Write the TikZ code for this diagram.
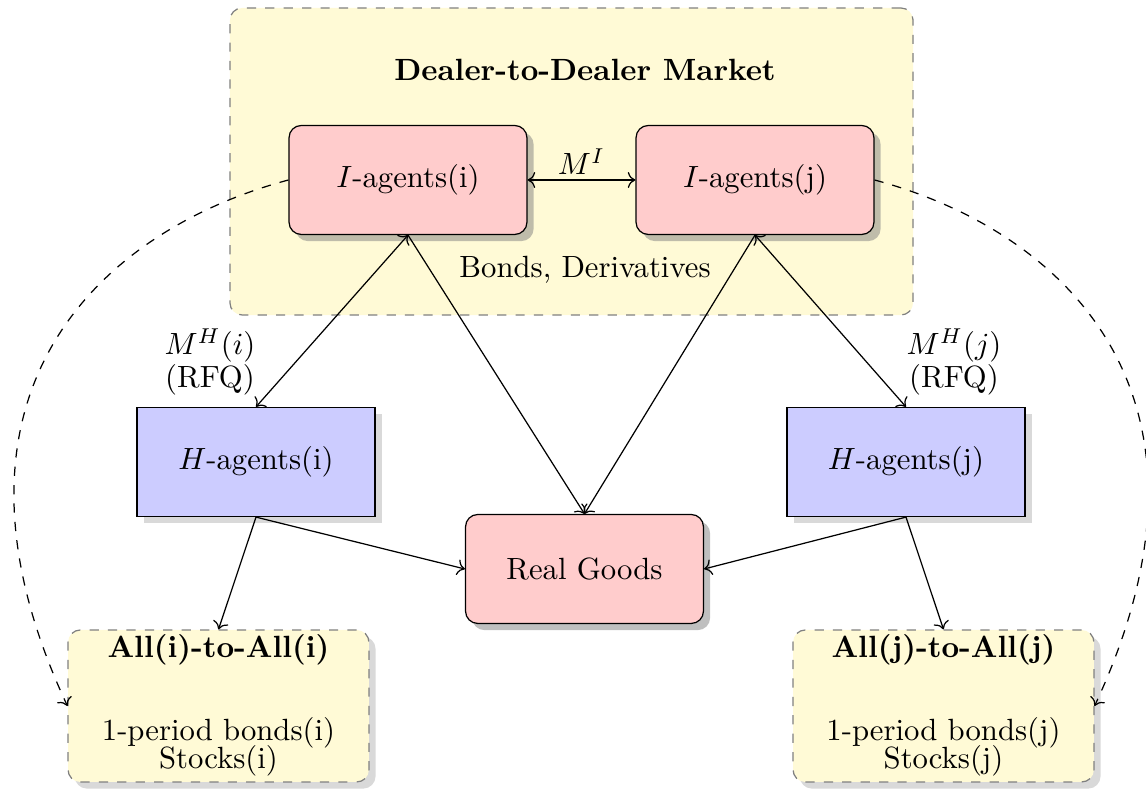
\documentclass[tikz,border=0pt]{standalone}
\usetikzlibrary{arrows.meta, positioning, shadows}
\definecolor{marketyellow}{RGB}{255,250,214}

\begin{document}
\begin{tikzpicture}[
        x=0.3257pt, y=0.3257pt,
        ibox/.style={draw, rounded corners, fill=red!20, minimum width=77.5pt,
                     minimum height=35.5pt, drop shadow={opacity=0.5}},
        hbox/.style={draw, fill=blue!20, minimum width=77.5pt,
                     minimum height=35.5pt, drop shadow={opacity=0.3}},
        market/.style={draw=gray, dashed, rounded corners, fill=marketyellow},
      ]
        \useasboundingbox (0,0) rectangle (1146,790);

        % dealer-to-dealer market
        \node[market, minimum width=222.5pt, minimum height=100pt] (dd) at (571.5,628.5) {};
        \node[font=\bfseries] (ddtitle) at (585,720) {Dealer-to-Dealer Market};
        \node (ddassets) at (585,520) {Bonds, Derivatives};

        \node[ibox] (ii) at (408,610) {$I$-agents(i)};
        \node[ibox] (ij) at (755,610) {$I$-agents(j)};

        % households and goods
        \node[hbox] (hi) at (256,328) {$H$-agents(i)};
        \node[hbox] (hj) at (906,328) {$H$-agents(j)};
        \node[ibox] (rg) at (584.5,221) {Real Goods};

        % all-to-all markets
        \node[market, minimum width=98pt, minimum height=49.5pt,
              drop shadow={opacity=0.3}] (alli) at (218.5,84) {};
        \node[market, minimum width=98pt, minimum height=49.5pt,
              drop shadow={opacity=0.3}] (allj) at (943.5,84) {};
        \node[font=\bfseries] (allititle) at (218.5,140) {All(i)-to-All(i)};
        \node[font=\bfseries] (alljtitle) at (943.5,140) {All(j)-to-All(j)};
        \node[align=center] (allitext) at (218.5,43)
          {1-period bonds(i)\\[-3pt]Stocks(i)};
        \node[align=center] (alljtext) at (943.5,43)
          {1-period bonds(j)\\[-3pt]Stocks(j)};

        % links
        \draw[<->] (ii) -- (ij) node[midway, above, inner sep=1.5pt] {$M^I$};
        \draw[<->] (ii.south) -- (hi.north);
        \draw[<->] (ij.south) -- (hj.north);
        \draw[->] (ii.south) -- (rg.north);
        \draw[->] (ij.south) -- (rg.north);
        \draw[->] (hi.south) -- (rg.west);
        \draw[->] (hj.south) -- (rg.east);
        \draw[->] (hi.south) -- (alli.north);
        \draw[->] (hj.south) -- (allj.north);

        \node[align=center] (mhi) at (210,428) {$M^H(i)$\\[-1pt](RFQ)};
        \node[align=center] (mhj) at (954,428) {$M^H(j)$\\[-1pt](RFQ)};

        \draw[->, dashed] (ii.west) .. controls +(195:200) and +(115:340) .. (alli.west);
        \draw[->, dashed] (ij.east) .. controls +(-15:200) and +(65:340) .. (allj.east);
      \end{tikzpicture}
\end{document}
